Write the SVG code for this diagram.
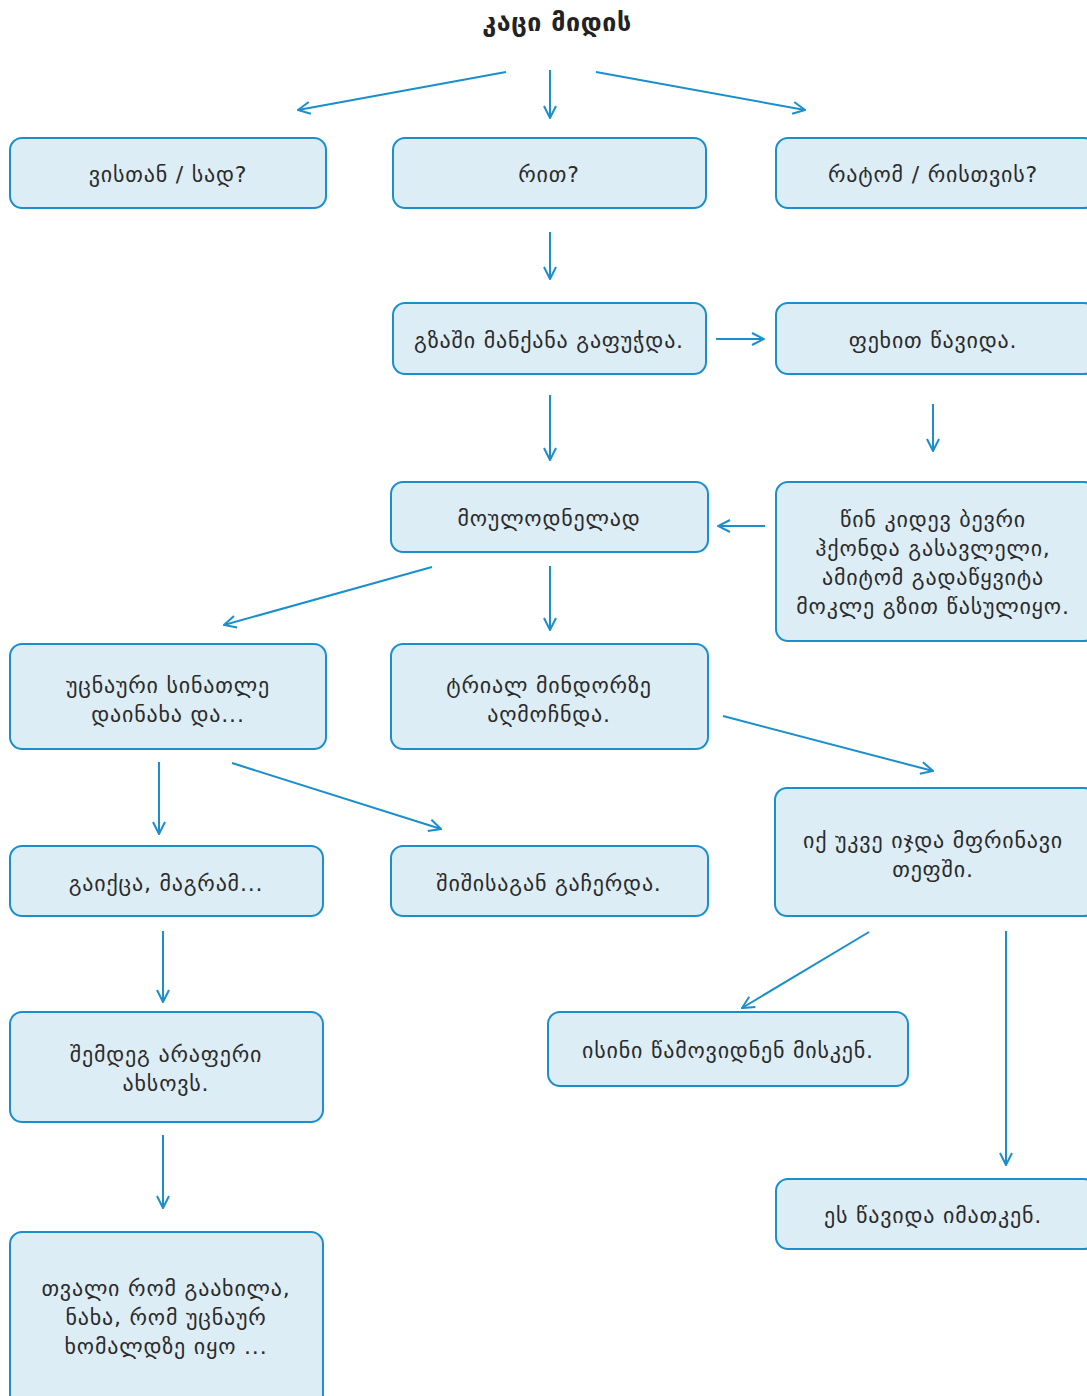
<svg xmlns="http://www.w3.org/2000/svg" width="1087" height="1396" viewBox="0 0 1087 1396">
<defs>
<marker id="ah" viewBox="0 0 14 14" refX="13" refY="7" markerWidth="14" markerHeight="14" markerUnits="userSpaceOnUse" orient="auto">
<path d="M1,1 L13,7 L1,13" fill="none" stroke="#1a8fcc" stroke-width="2"/>
</marker>
<style>
.b{fill:#ddedf6;stroke:#1a8fcc;stroke-width:2}
.t{font-family:"DejaVu Sans",sans-serif;font-size:22px;letter-spacing:0.8px;fill:#2b2b2b;text-anchor:middle}
.h{font-family:"DejaVu Sans",sans-serif;font-size:25px;letter-spacing:0.6px;font-weight:bold;fill:#222;text-anchor:middle}
.c line{stroke:#1a8fcc;stroke-width:2;marker-end:url(#ah)}
</style>
</defs>
<rect width="1087" height="1396" fill="#fff"/>
<text class="h" x="557" y="31">კაცი მიდის</text>
<g class="c" id="connectors">
<line x1="506" y1="72" x2="298" y2="110"/>
<line x1="550" y1="70" x2="550" y2="118"/>
<line x1="596" y1="72" x2="805" y2="110"/>
<line x1="550" y1="232" x2="550" y2="279"/>
<line x1="716" y1="339" x2="764" y2="339"/>
<line x1="550" y1="395" x2="550" y2="460"/>
<line x1="933" y1="404" x2="933" y2="451"/>
<line x1="765" y1="526" x2="718" y2="526"/>
<line x1="432" y1="567" x2="224" y2="625"/>
<line x1="550" y1="566" x2="550" y2="630"/>
<line x1="723" y1="716" x2="933" y2="771"/>
<line x1="159" y1="762" x2="159" y2="834"/>
<line x1="232" y1="763" x2="441" y2="829"/>
<line x1="869" y1="932" x2="742" y2="1008"/>
<line x1="1006" y1="931" x2="1006" y2="1165"/>
<line x1="163" y1="931" x2="163" y2="1002"/>
<line x1="163" y1="1135" x2="163" y2="1208"/>
</g>
<g id="n1"><rect class="b" x="10" y="138" width="316" height="70" rx="12"/><text class="t" x="168" y="182">ვისთან / სად?</text></g>
<g id="n2"><rect class="b" x="393" y="138" width="313" height="70" rx="12"/><text class="t" x="549" y="182">რით?</text></g>
<g id="n3"><rect class="b" x="776" y="138" width="320" height="70" rx="12"/><text class="t" x="933" y="182">რატომ / რისთვის?</text></g>
<g id="n4"><rect class="b" x="393" y="303" width="313" height="71" rx="12"/><text class="t" x="549" y="348">გზაში მანქანა გაფუჭდა.</text></g>
<g id="n5"><rect class="b" x="776" y="303" width="320" height="71" rx="12"/><text class="t" x="933" y="348">ფეხით წავიდა.</text></g>
<g id="n6"><rect class="b" x="391" y="482" width="317" height="70" rx="12"/><text class="t" x="549" y="526">მოულოდნელად</text></g>
<g id="n7"><rect class="b" x="776" y="482" width="320" height="159" rx="12"/><text class="t" x="933" y="527">წინ კიდევ ბევრი</text><text class="t" x="933" y="556">ჰქონდა გასავლელი,</text><text class="t" x="933" y="585">ამიტომ გადაწყვიტა</text><text class="t" x="933" y="614">მოკლე გზით წასულიყო.</text></g>
<g id="n8"><rect class="b" x="10" y="644" width="316" height="105" rx="12"/><text class="t" x="168" y="693">უცნაური სინათლე</text><text class="t" x="168" y="722">დაინახა და...</text></g>
<g id="n9"><rect class="b" x="391" y="644" width="317" height="105" rx="12"/><text class="t" x="549" y="693">ტრიალ მინდორზე</text><text class="t" x="549" y="722">აღმოჩნდა.</text></g>
<g id="n10"><rect class="b" x="775" y="788" width="321" height="128" rx="12"/><text class="t" x="933" y="848">იქ უკვე იჯდა მფრინავი</text><text class="t" x="933" y="877">თეფში.</text></g>
<g id="n11"><rect class="b" x="10" y="846" width="313" height="70" rx="12"/><text class="t" x="166" y="891">გაიქცა, მაგრამ...</text></g>
<g id="n12"><rect class="b" x="391" y="846" width="317" height="70" rx="12"/><text class="t" x="549" y="891">შიშისაგან გაჩერდა.</text></g>
<g id="n13"><rect class="b" x="10" y="1012" width="313" height="110" rx="12"/><text class="t" x="166" y="1062">შემდეგ არაფერი</text><text class="t" x="166" y="1091">ახსოვს.</text></g>
<g id="n14"><rect class="b" x="548" y="1012" width="360" height="74" rx="12"/><text class="t" x="728" y="1058">ისინი წამოვიდნენ მისკენ.</text></g>
<g id="n15"><rect class="b" x="776" y="1179" width="320" height="70" rx="12"/><text class="t" x="933" y="1223">ეს წავიდა იმათკენ.</text></g>
<g id="n16"><rect class="b" x="10" y="1232" width="313" height="180" rx="12"/><text class="t" x="166" y="1296">თვალი რომ გაახილა,</text><text class="t" x="166" y="1325">ნახა, რომ უცნაურ</text><text class="t" x="166" y="1354">ხომალდზე იყო ...</text></g>
</svg>
